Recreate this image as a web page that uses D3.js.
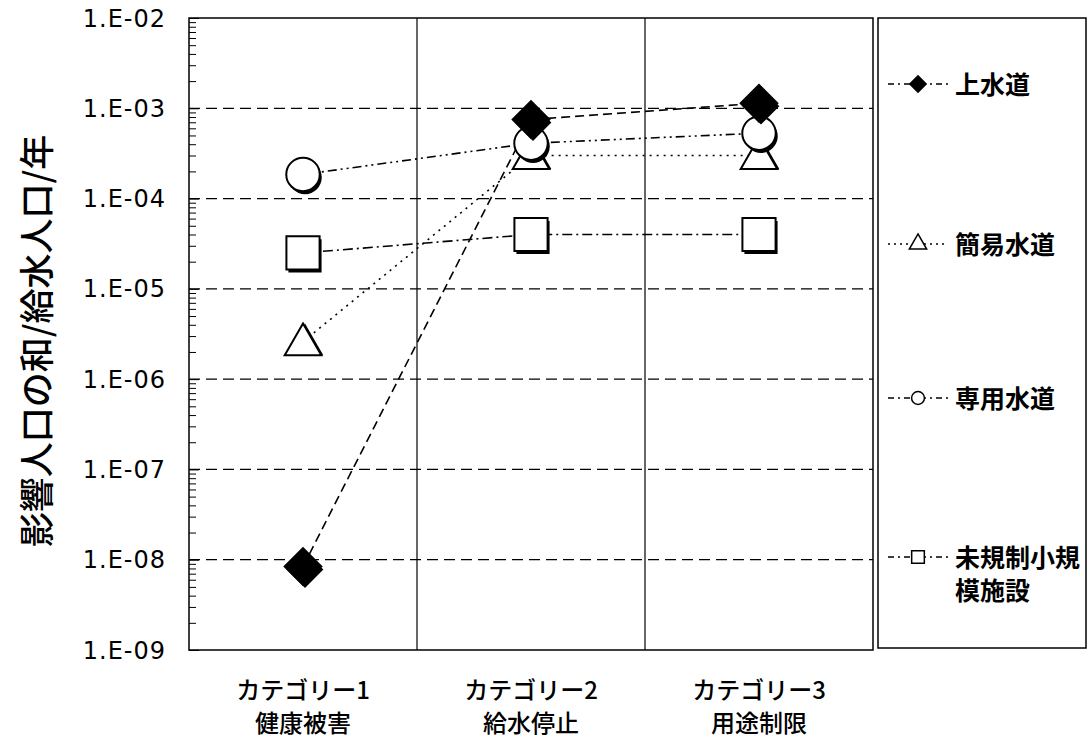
<!DOCTYPE html>
<html lang="ja">
<head>
    <meta charset="UTF-8">
    <title>影響人口</title>
    <script src="https://cdn.jsdelivr.net/npm/d3@7/dist/d3.min.js"></script>
    <style>
        body { margin: 0; background: #fff; }
        svg text { fill: #000; }
        .tick-label { font-family: "DejaVu Sans", Verdana, sans-serif; font-size: 24px; letter-spacing: 1px; }
        .cjk { font-family: "Noto Sans CJK JP", sans-serif; }
    </style>
</head>
<body>
<script>
    //chart size
    var w = 1092;
    var h = 740;

    //categories (two lines each)
    var catCodes = ['カテゴリー1', 'カテゴリー2', 'カテゴリー3'];
    var catNames = ['健康被害', '給水停止', '用途制限'];

    //series names and values
    var seriesNames = ['上水道', '簡易水道', '専用水道', '未規制小規模施設'];
    var josuido = [8.4e-9, 7.5e-4, 1.14e-3];
    var kani = [2.6e-6, 3.0e-4, 3.0e-4];
    var senyo = [1.85e-4, 4.1e-4, 5.3e-4];
    var mikisei = [2.5e-5, 4.0e-5, 4.0e-5];

    //y axis
    var yTickValues = [1e-9, 1e-8, 1e-7, 1e-6, 1e-5, 1e-4, 1e-3, 1e-2];
    var yTickLabels = ['1.E-09', '1.E-08', '1.E-07', '1.E-06', '1.E-05', '1.E-04', '1.E-03', '1.E-02'];
    var yTitle = '影響人口の和/給水人口/年';

    //plot box (window.top is taken, so prefix)
    var pLeft = 189, pRight = 873, pTop = 18, pBottom = 650;

    var xScale = d3.scaleBand()
                    .domain(catCodes)
                    .range([pLeft, pRight])
                    .padding(0);

    var yScale = d3.scaleLog()
                    .domain([1e-9, 1e-2])
                    .range([pBottom, pTop]);

    var svg = d3.select('body')
                .append('svg')
                .attr('width', w)
                .attr('height', h);

    //horizontal dashed gridlines
    svg.append('g')
        .selectAll('line')
        .data(yTickValues.slice(1, -1))
        .enter()
        .append('line')
        .attr('x1', pLeft)
        .attr('x2', pRight)
        .attr('y1', function(d) { return yScale(d); })
        .attr('y2', function(d) { return yScale(d); })
        .attr('stroke', '#000')
        .attr('stroke-width', 1.2)
        .attr('stroke-dasharray', '11,6');

    //vertical separators between categories
    svg.append('g')
        .selectAll('line')
        .data(catCodes.slice(1))
        .enter()
        .append('line')
        .attr('x1', function(d) { return xScale(d); })
        .attr('x2', function(d) { return xScale(d); })
        .attr('y1', pTop)
        .attr('y2', pBottom)
        .attr('stroke', '#000')
        .attr('stroke-width', 1.2);

    //frame
    svg.append('rect')
        .attr('x', pLeft)
        .attr('y', pTop)
        .attr('width', pRight - pLeft)
        .attr('height', pBottom - pTop)
        .attr('fill', 'none')
        .attr('stroke', '#000')
        .attr('stroke-width', 1.5);

    //y axis with minor ticks pointing inward
    var minor = yScale.ticks().filter(function(d) {
        return yTickValues.indexOf(d) < 0;
    });
    var yAxis = d3.axisRight(yScale)
                    .tickValues(minor)
                    .tickSize(7)
                    .tickFormat('');
    svg.append('g')
        .attr('transform', 'translate(' + pLeft + ',0)')
        .call(yAxis)
        .call(function(g) { g.select('.domain').remove(); })
        .selectAll('line')
        .attr('stroke', '#000');

    var yMajor = d3.axisRight(yScale)
                    .tickValues(yTickValues)
                    .tickSize(10)
                    .tickFormat('');
    svg.append('g')
        .attr('transform', 'translate(' + pLeft + ',0)')
        .call(yMajor)
        .call(function(g) { g.select('.domain').remove(); })
        .selectAll('line')
        .attr('stroke', '#000');

    //y tick labels
    svg.append('g')
        .selectAll('text')
        .data(yTickValues)
        .enter()
        .append('text')
        .attr('class', 'tick-label')
        .attr('x', 166)
        .attr('y', function(d) { return yScale(d); })
        .attr('dy', '0.36em')
        .attr('text-anchor', 'end')
        .text(function(d, i) { return yTickLabels[i]; });

    //y title
    svg.append('text')
        .attr('class', 'cjk')
        .attr('transform', 'translate(50,' + 341 + ') rotate(-90)')
        .attr('text-anchor', 'middle')
        .attr('font-size', '35px')
        .attr('font-weight', 500)
        .text(yTitle);

    //category labels
    var catG = svg.append('g')
        .selectAll('g')
        .data(catCodes)
        .enter()
        .append('g')
        .attr('transform', function(d) {
            return 'translate(' + (xScale(d) + xScale.bandwidth() / 2) + ',0)';
        });
    catG.append('text')
        .attr('class', 'cjk')
        .attr('y', 699)
        .attr('text-anchor', 'middle')
        .attr('font-size', '24px')
        .attr('font-weight', 500)
        .text(function(d) { return d; });
    catG.append('text')
        .attr('class', 'cjk')
        .attr('y', 732)
        .attr('text-anchor', 'middle')
        .attr('font-size', '24px')
        .attr('font-weight', 500)
        .text(function(d, i) { return catNames[i]; });

    //series styles
    var dashes = ['9,5', '2,5', '9,4,2,4,2,4', '10,4,2,4'];
    var shapes = [d3.symbolDiamond, d3.symbolTriangle, d3.symbolCircle, d3.symbolSquare];
    var sizes = [680, 580, 880, 1100];
    var fills = ['#000', '#fff', '#fff', '#fff'];
    var allSeries = [josuido, kani, senyo, mikisei];

    function cx(i) {
        return xScale(catCodes[i]) + xScale.bandwidth() / 2;
    }

    var line = d3.line()
                    .x(function(d, i) { return cx(i); })
                    .y(function(d) { return yScale(d); });

    //lines first
    allSeries.forEach(function(vals, s) {
        svg.append('path')
            .datum(vals)
            .attr('d', line)
            .attr('fill', 'none')
            .attr('stroke', '#000')
            .attr('stroke-width', 1.6)
            .attr('stroke-dasharray', dashes[s]);
    });

    //markers, drawn bottom series first so 上水道 ends on top
    function symbolPath(s, size) {
        if (shapes[s] === d3.symbolDiamond) {
            //square rotated 45deg reads like Excel's diamond
            return d3.symbol().type(d3.symbolSquare).size(size * 0.55)();
        }
        return d3.symbol().type(shapes[s]).size(size)();
    }

    [3, 1, 2, 0].forEach(function(s) {
        var g = svg.append('g');
        var pts = g.selectAll('g')
            .data(allSeries[s])
            .enter()
            .append('g')
            .attr('transform', function(d, i) {
                return 'translate(' + cx(i) + ',' + yScale(d) + ')';
            });
        var rot = shapes[s] === d3.symbolDiamond ? ' rotate(45)' : '';
        var sz = shapes[s] === d3.symbolDiamond ? sizes[s] * 1.8 : sizes[s];
        //shadow
        pts.append('path')
            .attr('d', symbolPath(s, sz))
            .attr('transform', 'translate(2,3)' + rot)
            .attr('fill', '#000');
        pts.append('path')
            .attr('d', symbolPath(s, sz))
            .attr('transform', shapes[s] === d3.symbolTriangle ? 'translate(0,3)' : rot)
            .attr('fill', fills[s])
            .attr('stroke', '#000')
            .attr('stroke-width', 2);
    });

    //legend box
    var lx = 878, ly = 18, lw = 208, lh = 630;
    svg.append('rect')
        .attr('x', lx)
        .attr('y', ly)
        .attr('width', lw)
        .attr('height', lh)
        .attr('fill', '#fff')
        .attr('stroke', '#000')
        .attr('stroke-width', 1.5);

    var legendY = [84, 244, 398, 557];
    var legendLines = [['上水道'], ['簡易水道'], ['専用水道'], ['未規制小規', '模施設']];
    seriesNames.forEach(function(name, s) {
        var y = legendY[s];
        svg.append('line')
            .attr('x1', 888)
            .attr('x2', 948)
            .attr('y1', y)
            .attr('y2', y)
            .attr('stroke', '#000')
            .attr('stroke-width', 1.5)
            .attr('stroke-dasharray', s === 1 ? '2,4' : '6,4,2,4');
        var rot = shapes[s] === d3.symbolDiamond ? ' rotate(45)' : '';
        var sz = shapes[s] === d3.symbolDiamond ? 240 : (s === 3 ? 160 : 130);
        svg.append('path')
            .attr('d', symbolPath(s, sz))
            .attr('transform', 'translate(918,' + y + ')' + rot)
            .attr('fill', fills[s])
            .attr('stroke', '#000')
            .attr('stroke-width', 1.5);
        var t = svg.append('text')
            .attr('class', 'cjk')
            .attr('x', 955)
            .attr('y', y)
            .attr('font-size', '25px')
            .attr('font-weight', 'bold');
        legendLines[s].forEach(function(str, k) {
            t.append('tspan')
                .attr('x', 955)
                .attr('dy', k === 0 ? '0.38em' : '1.32em')
                .text(str);
        });
    });
</script>
</body>
</html>
